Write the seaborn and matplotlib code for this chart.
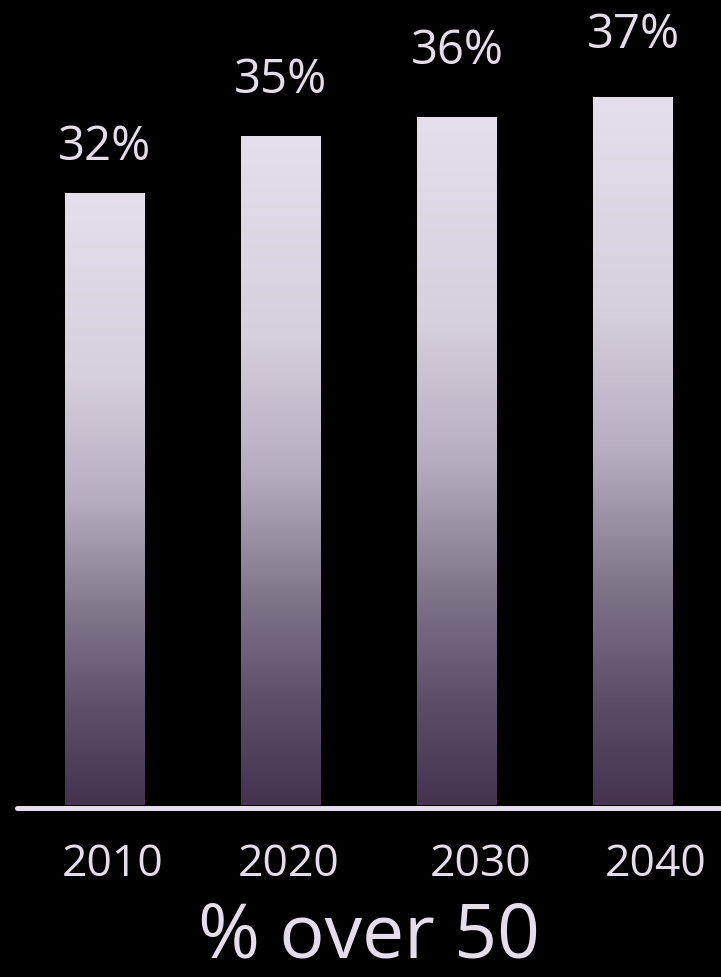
import numpy as np
import pandas as pd
import matplotlib
matplotlib.use("Agg")
import matplotlib.pyplot as plt
from matplotlib.colors import LinearSegmentedColormap
import seaborn as sns

# Share of population over 50, by decade
years = ["2010", "2020", "2030", "2040"]
values = [32, 35, 36, 37]
value_labels = ["32%", "35%", "36%", "37%"]
title = "% over 50"

TEXT = "#E4DEEA"
FONT = "Open Sans"

sns.set_theme(style="white")
plt.rcParams["font.family"] = [FONT, "DejaVu Sans"]

W, H, DPI = 721, 977, 100
fig = plt.figure(figsize=(W / DPI, H / DPI), dpi=DPI, facecolor="black")
ax = fig.add_axes([17 / W, (H - 805) / H, 704 / W, 805 / H])
ax.set_facecolor("black")

df = pd.DataFrame({"year": years, "pct": values})
sns.barplot(data=df, x="year", y="pct", width=80 / 176, color="white",
            ax=ax, saturation=1, zorder=2)
ax.set_xlim(-0.5, 3.5)
ax.set_ylim(0, 805 / 19.125)

# vertical gradient fill for each bar, dark at the base, pale at the top
cmap = LinearSegmentedColormap.from_list(
    "lavender",
    [(0.0, "#45334F"), (0.15, "#5B4F67"), (0.30, "#7D7387"),
     (0.50, "#B6AEBF"), (0.70, "#D6CFDD"), (1.0, "#E5DFEC")])
grad = np.linspace(0, 1, 256).reshape(-1, 1)
for patch in ax.patches:
    x0, y0 = patch.get_x(), patch.get_y()
    w, h = patch.get_width(), patch.get_height()
    patch.set_facecolor("none")
    patch.set_edgecolor("none")
    im = ax.imshow(grad, cmap=cmap, origin="lower", aspect="auto",
                   extent=[x0, x0 + w, y0, y0 + h], zorder=2,
                   interpolation="bilinear")
    im.set_clip_path(patch)

# value labels above the bars (baseline gap in pixels)
label_gap = [33, 43, 52, 49]
for i, (v, lab) in enumerate(zip(values, value_labels)):
    ax.annotate(lab, (i, v), xytext=(0, label_gap[i]),
                textcoords="offset pixels", ha="center", va="baseline",
                color=TEXT, fontsize=34, annotation_clip=False)

# baseline rule
ax.axhline(-3 / 19.125, color=TEXT, lw=5 * 0.72, clip_on=False, zorder=3)

for s in ax.spines.values():
    s.set_visible(False)
ax.set_yticks([])
tick_shift = [8 / 176, 8 / 176, 24 / 176, 23 / 176]
ax.set_xticks([i + d for i, d in enumerate(tick_shift)], years)
ax.tick_params(axis="x", length=0, pad=27, labelsize=32, labelcolor=TEXT)
ax.set_xlabel("")
ax.set_ylabel("")

fig.text(368.5 / W, 1 / H, title, ha="center", va="bottom",
         color=TEXT, fontsize=54)

fig.savefig("out.png", dpi=DPI, facecolor="black")
